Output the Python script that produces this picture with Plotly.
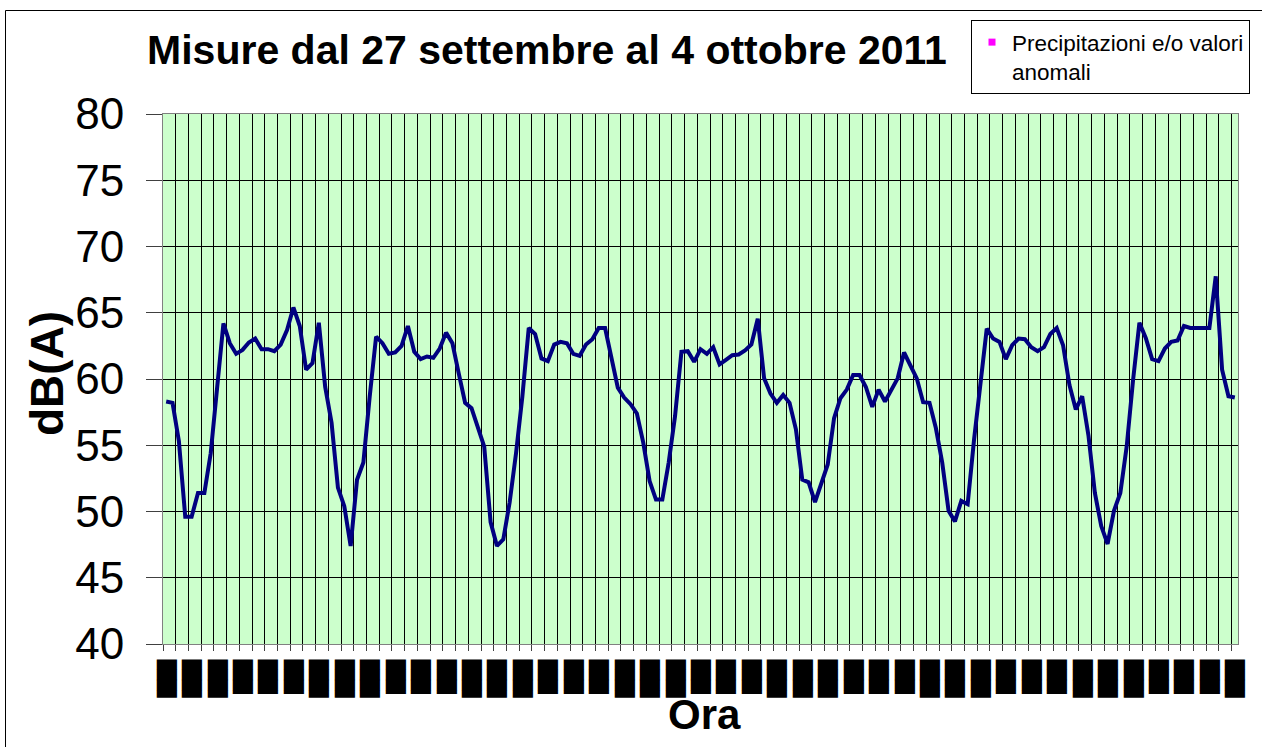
import plotly.graph_objects as go

# ---- data (hourly measurements, dB(A)) ----
levels = [
    58.3, 58.2, 55.3, 49.6, 49.6, 51.4, 51.4, 54.4, 59.3, 64.2,
    62.7, 61.9, 62.2, 62.75, 63.05, 62.25, 62.25, 62.1, 62.6, 63.7,
    65.4, 64.0, 60.7, 61.2, 64.25, 59.4, 56.7, 51.8, 50.4, 47.4,
    52.4, 53.7, 58.7, 63.2, 62.7, 61.9, 62.0, 62.5, 64.0, 62.05,
    61.5, 61.7, 61.6, 62.3, 63.5, 62.7, 60.4, 58.2, 57.8, 56.4,
    54.9, 49.2, 47.4, 47.9, 50.7, 54.4, 58.7, 63.85, 63.4, 61.55,
    61.35, 62.6, 62.8, 62.7, 61.9, 61.75, 62.6, 63.0, 63.85, 63.85,
    61.7, 59.35, 58.6, 58.1, 57.4, 55.2, 52.3, 50.9, 50.9, 53.7,
    57.2, 62.05, 62.1, 61.3, 62.25, 61.9, 62.4, 61.1, 61.45, 61.8,
    61.85, 62.15, 62.6, 64.55, 60.05, 58.9, 58.2, 58.8, 58.2, 56.2,
    52.4, 52.2, 50.7, 52.05, 53.55, 57.05, 58.55, 59.2, 60.3, 60.3,
    59.4, 57.9, 59.2, 58.3, 59.2, 60.05, 62.0, 61.05, 60.05, 58.25,
    58.2, 56.3, 53.7, 50.05, 49.25, 50.8, 50.55, 55.4, 59.6, 63.8,
    63.05, 62.8, 61.5, 62.55, 63.05, 63.0, 62.4, 62.1, 62.4, 63.4,
    63.85, 62.55, 59.55, 57.7, 58.7, 55.7, 51.4, 48.9, 47.55, 50.05,
    51.4, 54.9, 59.9, 64.25, 63.1, 61.5, 61.35, 62.3, 62.8, 62.9,
    64.0, 63.85, 63.85, 63.85, 63.85, 67.75, 60.7, 58.7, 58.6,
]
hours = list(range(len(levels)))

# tick labels every 4 hours (rendered as solid blocks, as in the original)
label_positions = list(range(0, len(levels), 4))
long_label = "\u2588\u2588\u2588\u258A"
short_label = "\u2588\u2588\u2588\u258D"
tick_labels = [long_label if (k % 6) < 3 else short_label for k in range(len(label_positions))]

y_ticks = [40, 45, 50, 55, 60, 65, 70, 75, 80]

title_text = "Misure dal 27 settembre al 4 ottobre 2011"
legend_text = "Precipitazioni e/o valori<br>anomali"
x_title = "Ora"
y_title = "dB(A)"

# ---- layout geometry (page pixels; body margin removed below) ----
W, H = 1262, 747
L, R, T, B = 163, 1238, 114, 644


def px_x(p):
    return (p - L) / (R - L)


def px_y(p):
    return (B - p) / (B - T)


fig = go.Figure()
fig.add_trace(go.Scatter(
    x=hours, y=levels, mode="lines",
    line=dict(color="#000080", width=4),
    showlegend=False, hoverinfo="x+y",
))
fig.add_trace(go.Scatter(
    x=[None], y=[None], mode="markers",
    marker=dict(symbol="square", color="#FF00FF", size=7),
    name=legend_text, showlegend=True,
))

fig.update_layout(
    width=W, height=H,
    margin=dict(l=L, r=W - R, t=T, b=H - B, autoexpand=False),
    paper_bgcolor="white",
    plot_bgcolor="#CCFFCC",
    font=dict(family="Liberation Sans, Arial, sans-serif", color="black"),
    title=dict(
        text=title_text, x=547 / W, xanchor="center",
        y=1 - 50 / H, yanchor="middle", xref="container", yref="container",
        font=dict(size=41, weight="bold", color="black"),
    ),
    legend=dict(
        x=px_x(971), y=px_y(20), xanchor="left", yanchor="top",
        bgcolor="white", bordercolor="black", borderwidth=1,
        font=dict(size=22.5, color="black"), valign="top",
        itemsizing="trace",
    ),
    xaxis=dict(
        range=[-0.5, len(levels) - 0.5],
        tickmode="array", tickvals=label_positions, ticktext=tick_labels,
        tickangle=90,
        tickfont=dict(family="DejaVu Sans Mono", size=17, color="black"),
        ticks="", showgrid=False, zeroline=False,
        showline=True, linecolor="#808080", linewidth=1, mirror=True,
        ticklabelstandoff=11,
        minor=dict(
            tickmode="linear", tick0=-0.5, dtick=2,
            showgrid=True, gridcolor="black", gridwidth=1,
            ticks="outside", ticklen=6, tickcolor="#404040", tickwidth=1,
        ),
    ),
    yaxis=dict(
        range=[40, 80], tickmode="array", tickvals=y_ticks,
        ticks="outside", ticklen=16, tickcolor="#404040", tickwidth=1,
        showgrid=True, gridcolor="black", gridwidth=1, zeroline=False,
        showline=True, linecolor="#808080", linewidth=1, mirror=True,
        tickfont=dict(size=44, color="black"),
        ticklabelstandoff=13,
    ),
    annotations=[
        dict(text=y_title, xref="paper", yref="paper", x=px_x(47), y=px_y(374),
             xanchor="center", yanchor="middle", textangle=-90, showarrow=False,
             font=dict(size=46, weight="bold", color="black")),
        dict(text=x_title, xref="paper", yref="paper", x=px_x(704), y=px_y(714),
             xanchor="center", yanchor="middle", showarrow=False,
             font=dict(size=42, weight="bold", color="black")),
    ],
    shapes=[dict(
        type="rect", xref="paper", yref="paper",
        x0=px_x(5.5), x1=px_x(1275), y0=px_y(760), y1=px_y(10.5),
        line=dict(color="black", width=1), fillcolor="rgba(0,0,0,0)", layer="below",
    )],
)

fig.write_html(
    "out.html",
    config={"displayModeBar": False},
    post_script="document.body.style.margin='0';document.body.style.overflow='hidden';",
)
